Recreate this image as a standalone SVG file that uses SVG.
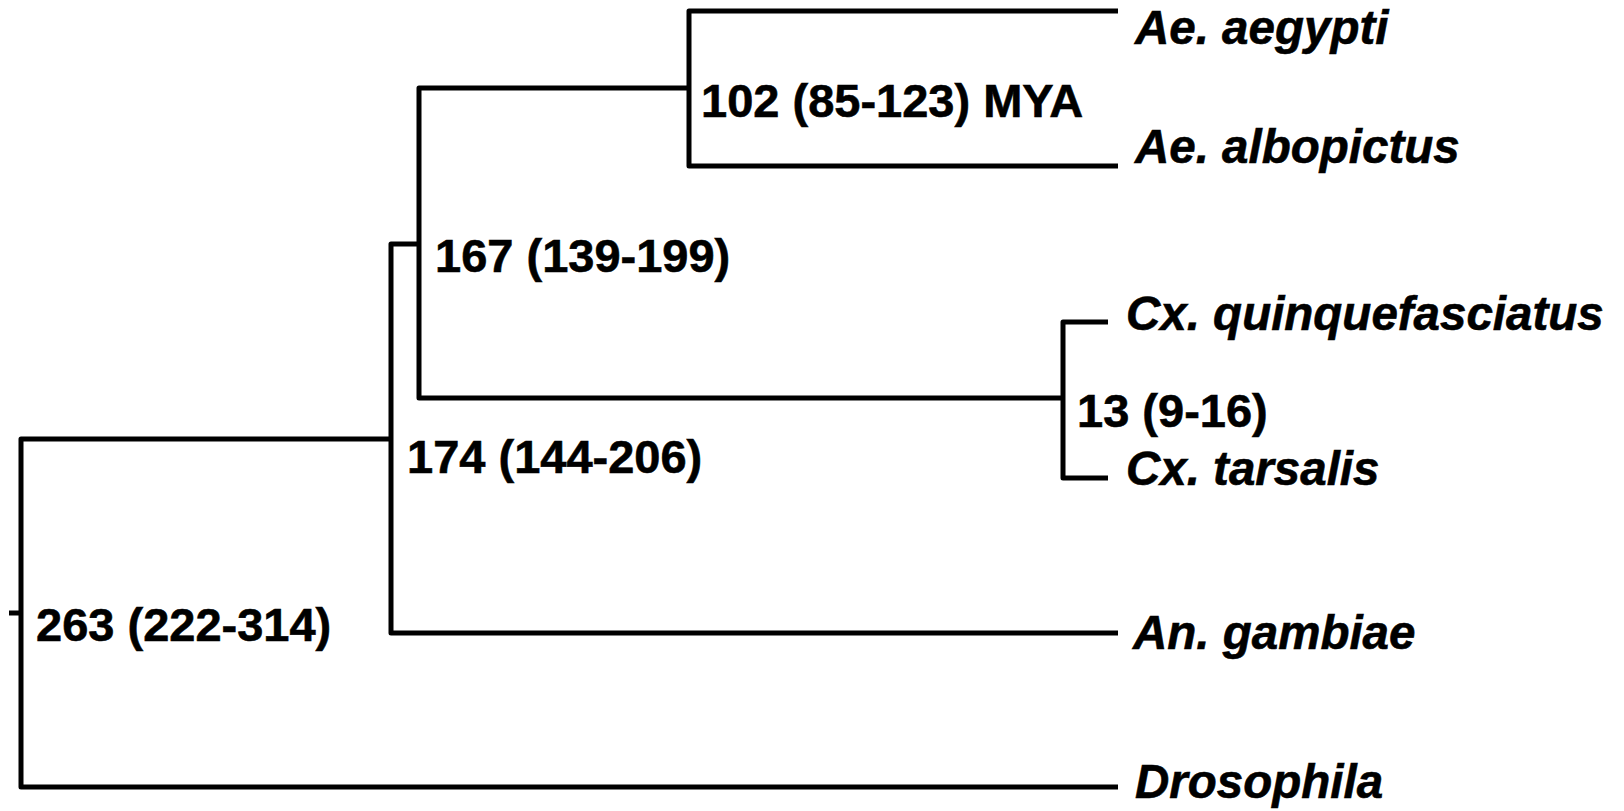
<svg xmlns="http://www.w3.org/2000/svg" width="1624" height="811" viewBox="0 0 1624 811">
  <style>
    .branch { fill: none; stroke: #000; stroke-width: 5; stroke-linejoin: round; stroke-linecap: butt; }
    .age { font-family: "Liberation Sans", Arial, sans-serif; font-weight: bold; font-size: 47px; fill: #000; stroke: #000; stroke-width: 0.6; }
    .taxon { font-family: "Liberation Sans", Arial, sans-serif; font-weight: bold; font-style: italic; font-size: 47.5px; fill: #000; stroke: #000; stroke-width: 0.6; }
  </style>
  <rect width="1624" height="811" fill="#fff"/>

  <!-- tree branches -->
  <g id="connectors">
    <path class="branch" d="M9 613 H21"/>
    <path class="branch" d="M391 439 H21 V787 H1118"/>
    <path class="branch" d="M419 244 H391 V633 H1118"/>
    <path class="branch" d="M689 88 H419 V398 H1063"/>
    <path class="branch" d="M1118 11 H689 V166 H1118"/>
    <path class="branch" d="M1108 322 H1063 V478 H1108"/>
  </g>

  <!-- internal nodes: divergence times -->
  <g id="node-root"><text class="age" x="36" y="641">263 (222-314)</text></g>
  <g id="node-culicidae"><text class="age" x="407" y="473">174 (144-206)</text></g>
  <g id="node-culicinae"><text class="age" x="435" y="272">167 (139-199)</text></g>
  <g id="node-aedes"><text class="age" x="701" y="117">102 (85-123) MYA</text></g>
  <g id="node-culex"><text class="age" x="1077" y="427">13 (9-16)</text></g>

  <!-- tips -->
  <g id="tip-ae-aegypti"><text class="taxon" x="1135" y="44">Ae. aegypti</text></g>
  <g id="tip-ae-albopictus"><text class="taxon" x="1135" y="163">Ae. albopictus</text></g>
  <g id="tip-cx-quinquefasciatus"><text class="taxon" x="1126" y="330">Cx. quinquefasciatus</text></g>
  <g id="tip-cx-tarsalis"><text class="taxon" x="1126" y="485">Cx. tarsalis</text></g>
  <g id="tip-an-gambiae"><text class="taxon" x="1133" y="649">An. gambiae</text></g>
  <g id="tip-drosophila"><text class="taxon" x="1135" y="798">Drosophila</text></g>
</svg>
